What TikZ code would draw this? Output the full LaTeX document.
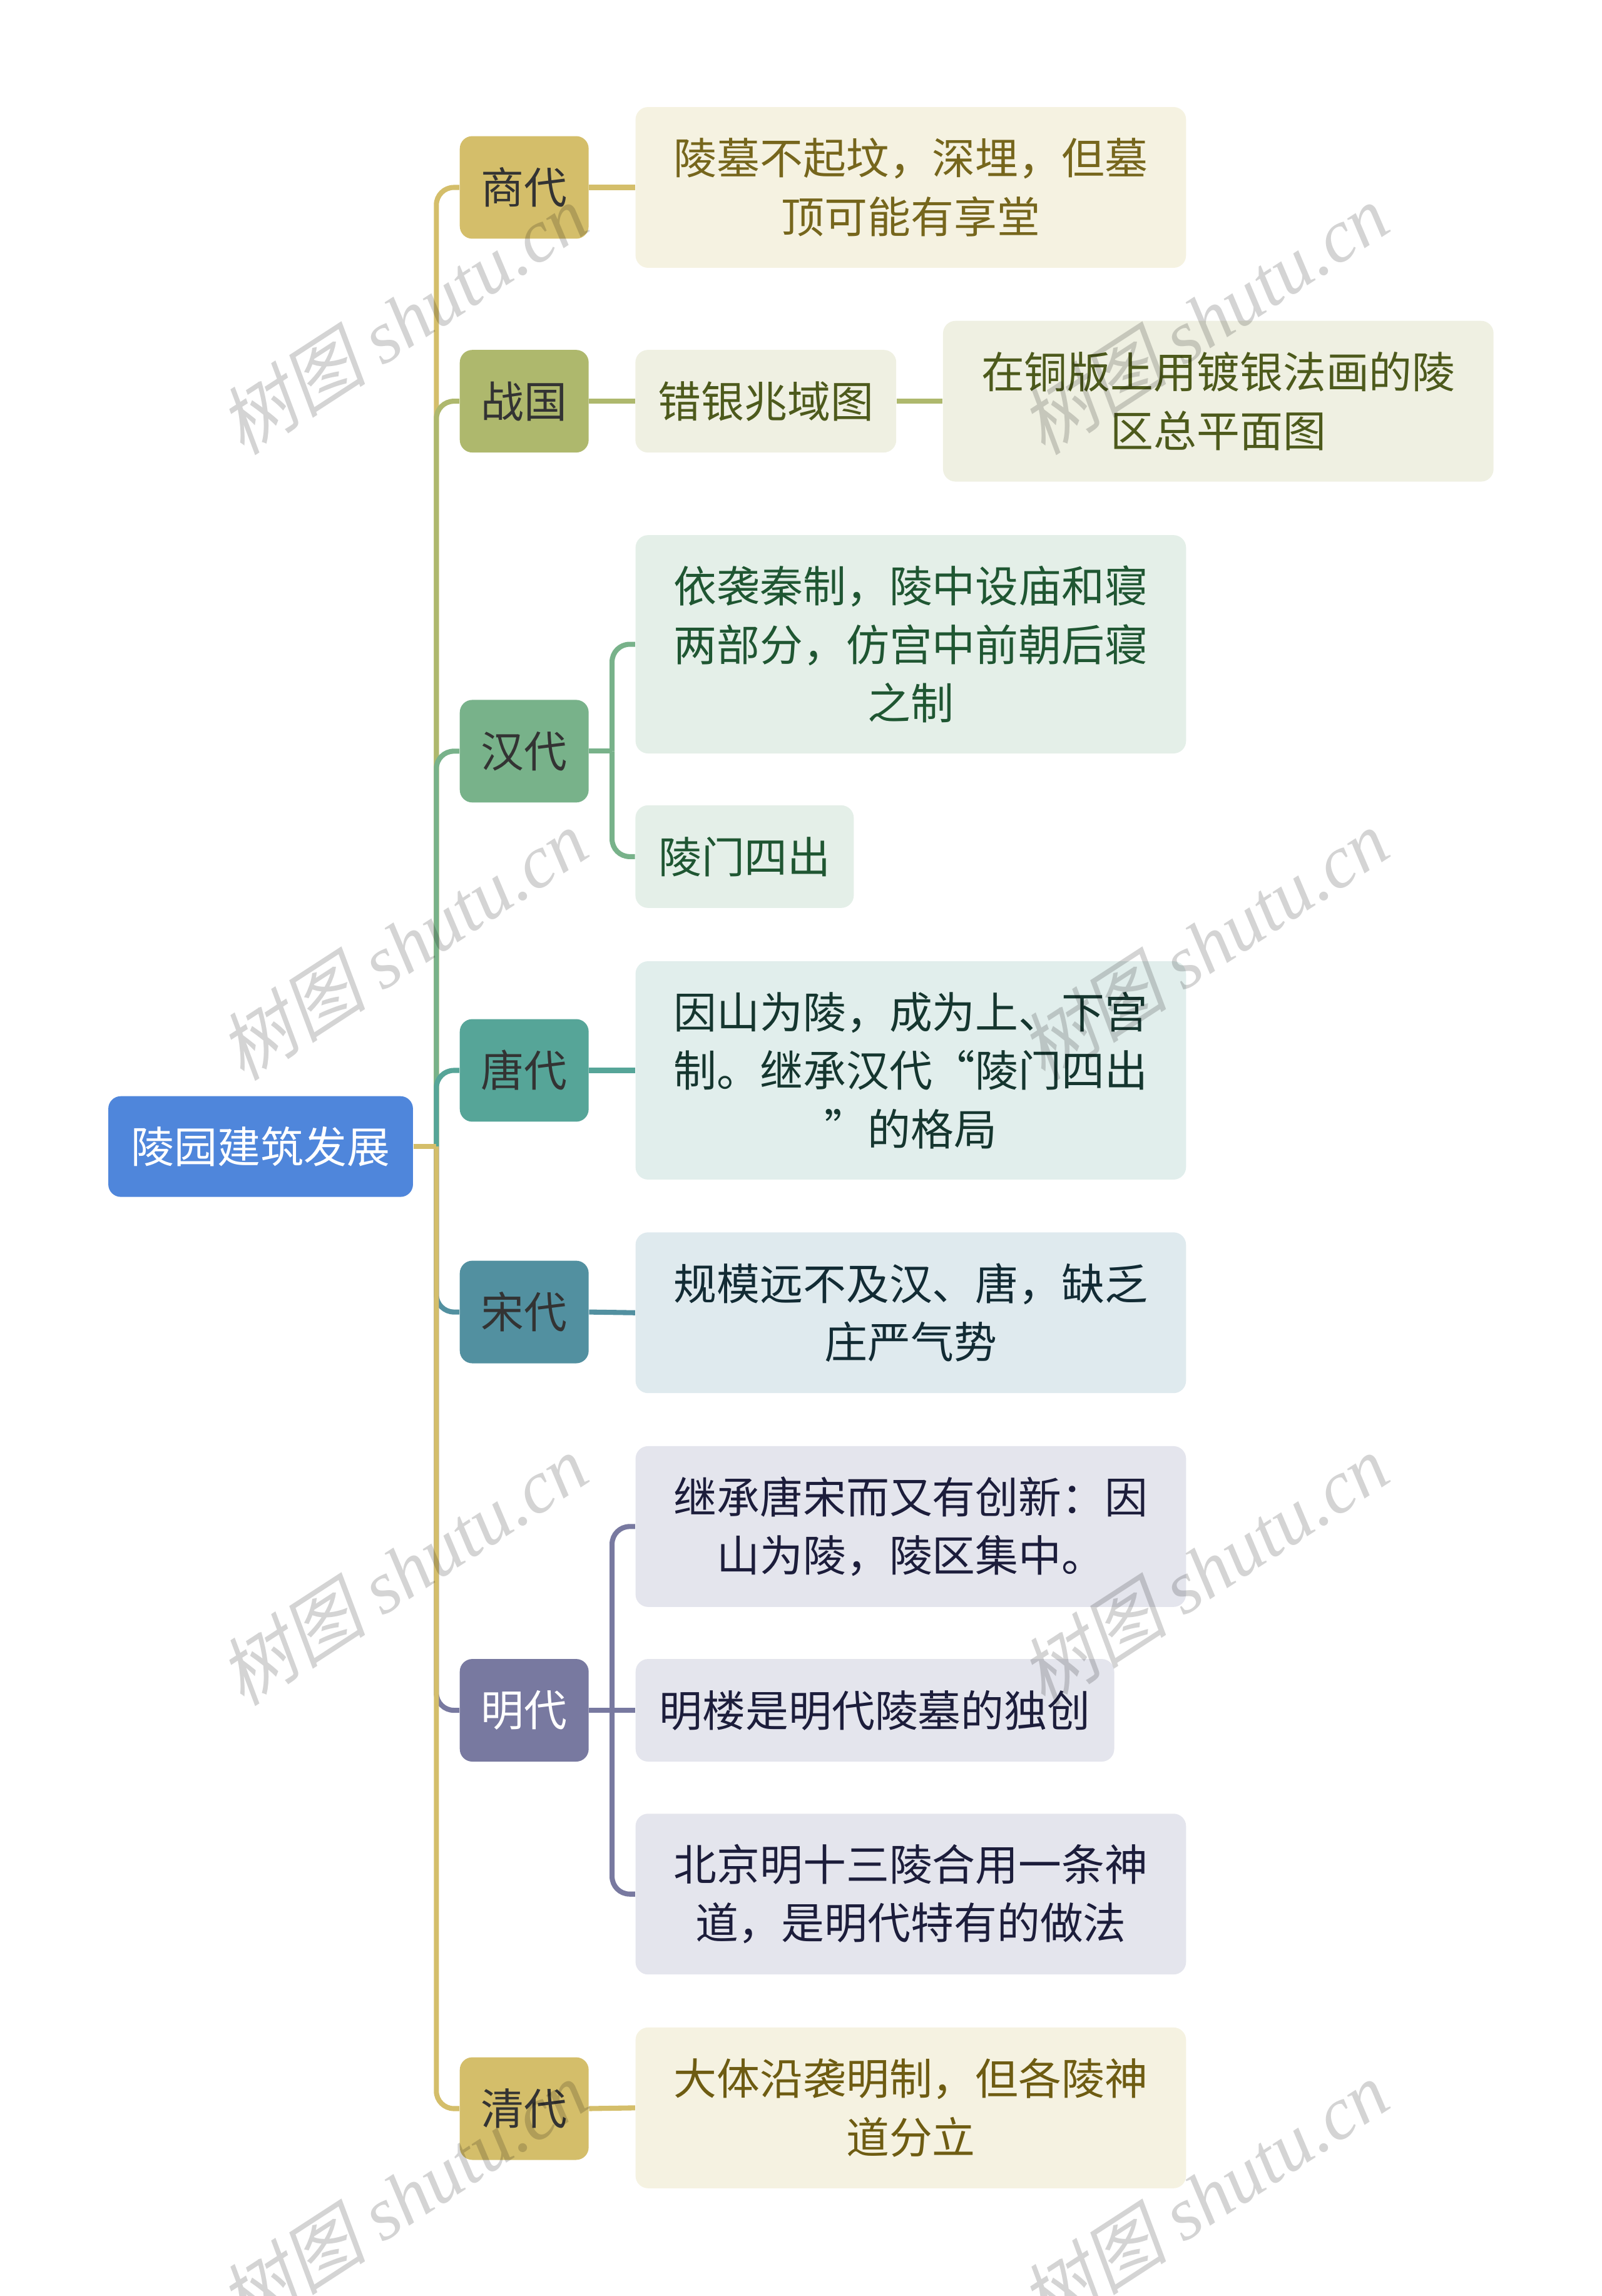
\documentclass[tikz,border=0pt]{standalone}
\usepackage{fontspec}
\setmainfont{Noto Sans CJK SC}
\newfontfamily\wmhan[FakeSlant=0.22]{Noto Sans CJK SC}
\newfontfamily\wmlatin{Liberation Serif}

\definecolor{rootblue}{HTML}{4F86DB}
\definecolor{shangC}{HTML}{D4BE6A}
\definecolor{shangL}{HTML}{F5F2E1}
\definecolor{shangT}{HTML}{76661C}
\definecolor{zhanC}{HTML}{AEB86D}
\definecolor{zhanL}{HTML}{EFF0E2}
\definecolor{zhanT}{HTML}{4D5A1C}
\definecolor{hanC}{HTML}{78B28A}
\definecolor{hanL}{HTML}{E4EFE8}
\definecolor{hanT}{HTML}{1F5632}
\definecolor{tangC}{HTML}{56A598}
\definecolor{tangL}{HTML}{E1EEEC}
\definecolor{tangT}{HTML}{15362F}
\definecolor{songC}{HTML}{5290A0}
\definecolor{songL}{HTML}{DFEAEE}
\definecolor{songT}{HTML}{122B34}
\definecolor{mingC}{HTML}{7879A0}
\definecolor{mingL}{HTML}{E4E5ED}
\definecolor{mingT}{HTML}{1C1D3B}
\definecolor{qingC}{HTML}{D4BE6A}
\definecolor{qingL}{HTML}{F5F2E1}
\definecolor{qingT}{HTML}{6E5C12}

\tikzset{
  rootbox/.style={rectangle, rounded corners=0.2cm, fill=rootblue, text=white,
    minimum width=4.87cm, minimum height=1.61cm, inner sep=0pt},
  erabox/.style={rectangle, rounded corners=0.2cm, text=black!80,
    minimum width=2.06cm, minimum height=1.64cm, inner sep=0pt},
  notebox/.style={rectangle, rounded corners=0.2cm, align=center,
    minimum width=8.8cm, inner sep=0pt},
  branch/.style={line width=2.3pt},
  elbow/.style={line width=2.3pt, rounded corners=0.28cm},
  wmark/.style={text=black, text opacity=0.17, rotate=33,
    font=\fontsize{34}{38}\selectfont}
}

\begin{document}
\begin{tikzpicture}[x=0.0234cm, y=-0.0234cm, font=\fontsize{19.6}{26.6}\selectfont]

  \useasboundingbox (0,0) rectangle (1094,1568);

  % ================================================================
  % Root
  % ================================================================

  \node[rootbox] (root) at (178,783) {陵园建筑发展};

  % ================================================================
  % Dynasties
  % ================================================================

  \node[erabox, fill=shangC] (shang) at (358,128) {商代};
  \node[erabox, fill=zhanC] (zhan) at (358,274) {战国};
  \node[erabox, fill=hanC] (han) at (358,513) {汉代};
  \node[erabox, fill=tangC] (tang) at (358,731) {唐代};
  \node[erabox, fill=songC] (song) at (358,896) {宋代};
  \node[erabox, fill=mingC, text=white] (ming) at (358,1168) {明代};
  \node[erabox, fill=qingC] (qing) at (358,1440) {清代};

  % ================================================================
  % Notes
  % ================================================================

  \node[notebox, fill=shangL, text=shangT, minimum height=2.57cm]
    (shangA) at (622,128) {陵墓不起坟，深埋，但墓\\顶可能有享堂};

  \node[notebox, fill=zhanL, text=zhanT, minimum width=4.17cm, minimum height=1.64cm]
    (zhanA) at (523,274) {错银兆域图};
  \node[notebox, fill=zhanL, text=zhanT, minimum height=2.57cm]
    (zhanB) at (832,274) {在铜版上用镀银法画的陵\\区总平面图};

  \node[notebox, fill=hanL, text=hanT, minimum height=3.49cm]
    (hanA) at (622,440) {依袭秦制，陵中设庙和寝\\两部分，仿宫中前朝后寝\\之制};
  \node[notebox, fill=hanL, text=hanT, minimum width=3.49cm, minimum height=1.64cm]
    (hanB) at (508.5,585) {陵门四出};

  \node[notebox, fill=tangL, text=tangT, minimum height=3.49cm]
    (tangA) at (622,731) {因山为陵，成为上、下宫\\制。继承汉代“陵门四出\\”的格局};

  \node[notebox, fill=songL, text=songT, minimum height=2.57cm]
    (songA) at (622,896.5) {规模远不及汉、唐，缺乏\\庄严气势};

  \node[notebox, fill=mingL, text=mingT, minimum height=2.57cm]
    (mingA) at (622,1042.5) {继承唐宋而又有创新：因\\山为陵，陵区集中。};
  \node[notebox, fill=mingL, text=mingT, minimum width=7.65cm, minimum height=1.64cm]
    (mingB) at (597.5,1168) {明楼是明代陵墓的独创};
  \node[notebox, fill=mingL, text=mingT, minimum height=2.57cm]
    (mingC) at (622,1293.5) {北京明十三陵合用一条神\\道，是明代特有的做法};

  \node[notebox, fill=qingL, text=qingT, minimum height=2.57cm]
    (qingA) at (622,1439.5) {大体沿袭明制，但各陵神\\道分立};

  % ================================================================
  % Connectors
  % ================================================================

  % --- root -> dynasties, drawn top to bottom ---
  \coordinate (trunk) at (298,783);
  \draw[elbow, shangC] (trunk) |- (shang.west);
  \draw[elbow, zhanC] (trunk) |- (zhan.west);
  \draw[elbow, hanC] (trunk) |- (han.west);
  \draw[elbow, tangC] (trunk) |- (tang.west);
  \draw[elbow, songC] (trunk) |- (song.west);
  \draw[elbow, mingC] (trunk) |- (ming.west);
  \draw[elbow, qingC] (trunk) |- (qing.west);
  \draw[branch, qingC] (root.east) -- (trunk);

  % --- dynasties -> notes ---
  \draw[branch, shangC] (shang.east) -- (shangA.west);
  \draw[branch, zhanC] (zhan.east) -- (zhanA.west);
  \draw[branch, zhanC] (zhanA.east) -- (zhanB.west);

  \coordinate (hanFork) at (418,513);
  \draw[branch, hanC] (han.east) -- (hanFork);
  \draw[elbow, hanC] (hanFork) |- (hanA.west);
  \draw[elbow, hanC] (hanFork) |- (hanB.west);

  \draw[branch, tangC] (tang.east) -- (tangA.west);
  \draw[branch, songC] (song.east) -- (songA.west);

  \coordinate (mingFork) at (418,1168);
  \draw[branch, mingC] (ming.east) -- (mingFork);
  \draw[elbow, mingC] (mingFork) |- (mingA.west);
  \draw[branch, mingC] (mingFork) -- (mingB.west);
  \draw[elbow, mingC] (mingFork) |- (mingC.west);

  \draw[branch, qingC] (qing.east) -- (qingA.west);

  % ================================================================
  % Watermarks
  % ================================================================

  \foreach \wx/\wy in {275/218, 822/218, 275/645, 822/645,
                       275/1072, 822/1072, 275/1500, 822/1500}
    \node[wmark] (wm-\wx-\wy) at (\wx,\wy)
      {{\wmhan 树图} {\wmlatin\itshape shutu.cn}};

\end{tikzpicture}
\end{document}
